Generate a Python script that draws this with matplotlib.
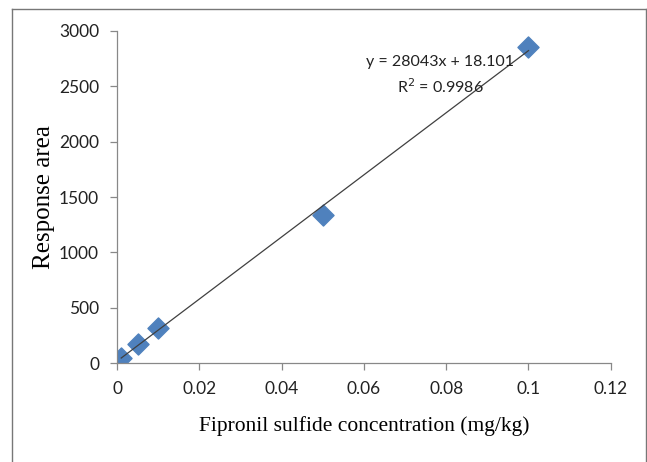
import numpy as np
import matplotlib.pyplot as plt
from matplotlib.lines import Line2D

# calibration points
conc = [0.001, 0.005, 0.01, 0.05, 0.1]
area = [45, 175, 320, 1340, 2855]

slope, intercept = 28043, 18.101
x_ticks = [0, 0.02, 0.04, 0.06, 0.08, 0.1, 0.12]
x_tick_labels = ['0', '0.02', '0.04', '0.06', '0.08', '0.1', '0.12']
y_ticks = [0, 500, 1000, 1500, 2000, 2500, 3000]

tick_font = 'Lato'
label_font = 'Liberation Serif'

fig = plt.figure(figsize=(6.47, 4.62), dpi=100)
ax = fig.add_axes([0.181, 0.214, 0.763, 0.719])

# trendline over the data range
xs = np.array([conc[0], conc[-1]])
ax.plot(xs, slope * xs + intercept, color='#404040', lw=0.9, zorder=3)
ax.scatter(conc, area, marker='D', s=115, color='#4F81BD', zorder=2)

ax.set_xlim(0, 0.12)
ax.set_ylim(0, 3000)
ax.set_xticks(x_ticks)
ax.set_xticklabels(x_tick_labels)
ax.set_yticks(y_ticks)
for lab in ax.get_xticklabels() + ax.get_yticklabels():
    lab.set_fontfamily(tick_font)
    lab.set_fontsize(12.5)
    lab.set_color('#222222')

for s in ['top', 'right']:
    ax.spines[s].set_visible(False)
for s in ['left', 'bottom']:
    ax.spines[s].set_color('#888888')
    ax.spines[s].set_linewidth(0.9)
ax.tick_params(axis='both', colors='#888888', length=5, width=0.9, direction='out')
ax.tick_params(axis='x', pad=8, labelcolor='#222222')
ax.tick_params(axis='y', pad=8, labelcolor='#222222')

ax.set_xlabel('Fipronil sulfide concentration (mg/kg)', fontfamily=label_font,
              fontsize=15.5)
ax.set_ylabel('Response area', fontfamily=label_font, fontsize=18)
# label positions in axes coordinates
ax.xaxis.set_label_coords(0.5, -0.158)
ax.yaxis.set_label_coords(-0.126, 0.5)

ax.text(0.0785, 2720, 'y = 28043x + 18.101', fontfamily=tick_font, fontsize=11.5,
        ha='center', va='center', color='#222222')
ax.text(0.0785, 2494, 'R$^2$ = 0.9986', fontfamily=tick_font, fontsize=11.5,
        ha='center', va='center', color='#222222')

# outer chart frame
fc = '#777777'
fig.add_artist(Line2D([12/647, 12/647], [0, 1 - 9/462], color=fc, lw=1))
fig.add_artist(Line2D([12/647, 646/647], [1 - 9/462, 1 - 9/462], color=fc, lw=1))
fig.add_artist(Line2D([646/647, 646/647], [0, 1 - 9/462], color=fc, lw=1))

fig.savefig('out.png', dpi=100)
